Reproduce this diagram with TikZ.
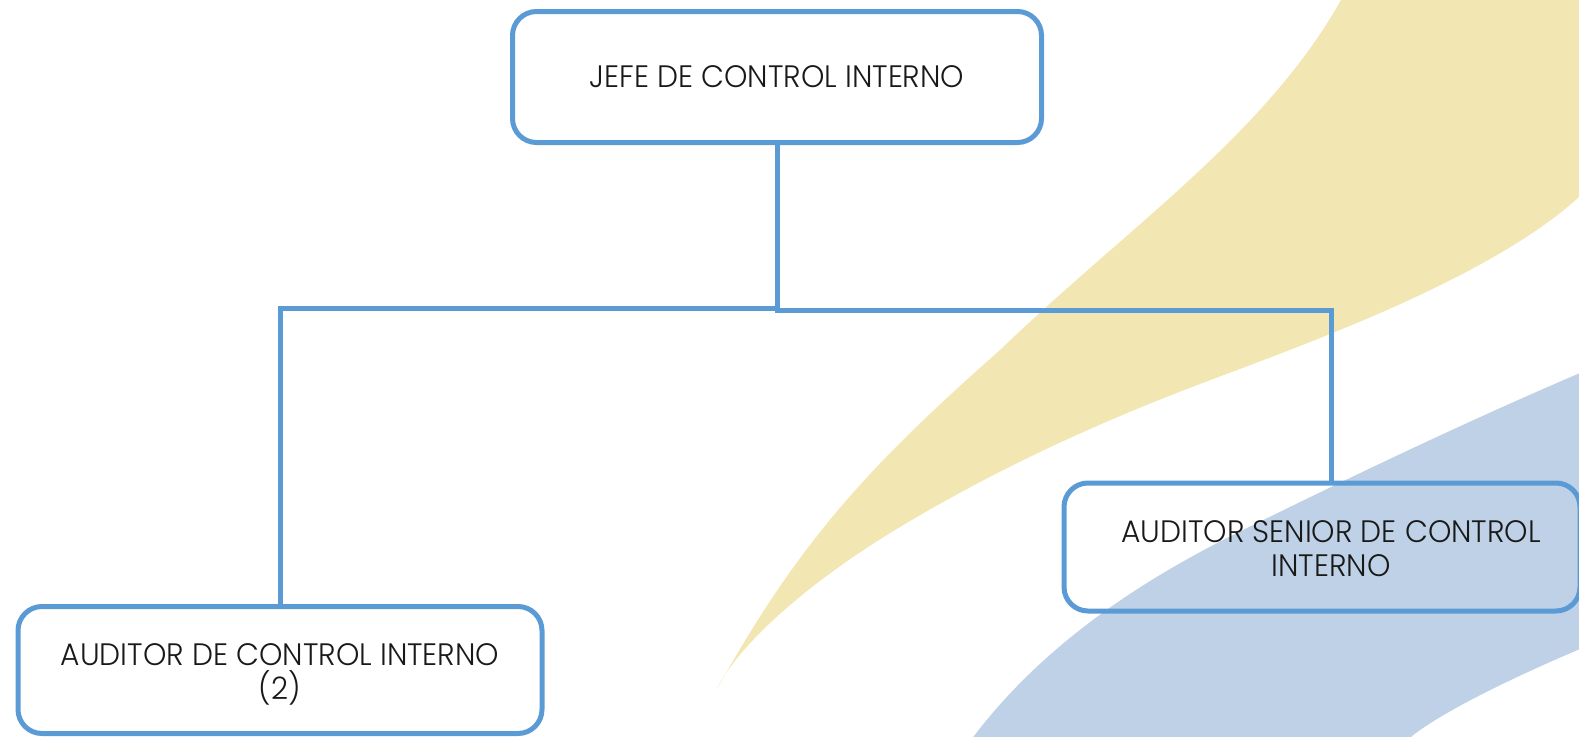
\documentclass[tikz,border=0pt]{standalone}
\usepackage{fontspec}
\setmainfont{Poppins}[UprightFont=* Light, FakeStretch=0.96]
\definecolor{boxblue}{HTML}{5B9BD5}
\definecolor{swyellow}{HTML}{F2E6B3}
\definecolor{swblue}{HTML}{BED1E6}
\tikzset{
  orgbox/.style={draw=boxblue, line width=5pt, rounded corners=24pt, inner sep=0pt},
  conn/.style={draw=boxblue, line width=5pt},
  lbl/.style={align=center, font=\fontsize{31}{34}\selectfont, text=black!90, inner sep=0pt}
}
\begin{document}
\begin{tikzpicture}[x=1pt,y=-1pt]
\useasboundingbox (0,0) rectangle (1579,736);
\begin{scope}
\clip (0,0) rectangle (1579,736);
% yellow swoosh
\fill[swyellow] (717,689)
  .. controls (800,540) and (870,465) .. (1000,350)
  .. controls (1130,225) and (1265,135) .. (1341,0)
  -- (1345,-10) -- (1590,-10) -- (1590,187) -- (1579,197)
  .. controls (1488,280) and (1300,346) .. (1200,384)
  .. controls (1100,422) and (1000,467) .. (900,527)
  .. controls (800,587) and (735,650) .. (717,689) -- cycle;
% blue swoosh
\fill[swblue] (974,736)
  .. controls (1035,656) and (1121,591) .. (1231,536)
  .. controls (1352,476) and (1470,420) .. (1580,373)
  -- (1590,368) -- (1590,645) -- (1580,649)
  .. controls (1500,683) and (1440,714) .. (1412,736)
  -- (1400,750) -- (960,750) -- cycle;
\end{scope}
% boxes
\node[orgbox, lbl, minimum width=529pt, minimum height=131pt] (jefe) at (777,77) {JEFE DE CONTROL INTERNO};
\node[orgbox, minimum width=524pt, minimum height=127pt] (aud) at (280,670) {};
\node[lbl] (audtxt) at (280,674) {AUDITOR DE CONTROL INTERNO\\(2)};
\node[orgbox, minimum width=516pt, minimum height=128pt] (senior) at (1322,547) {};
\node[lbl] (seniortxt) at (1331,549) {AUDITOR SENIOR DE CONTROL\\INTERNO};
% connectors
\coordinate (jl) at (777,308);
\coordinate (jr) at (1331,310);
\draw[conn] (jefe.south) -- (jl) -| (aud.north);
\draw[conn] (jefe.south) |- (jr) -- (jr |- senior.north);
\end{tikzpicture}
\end{document}
